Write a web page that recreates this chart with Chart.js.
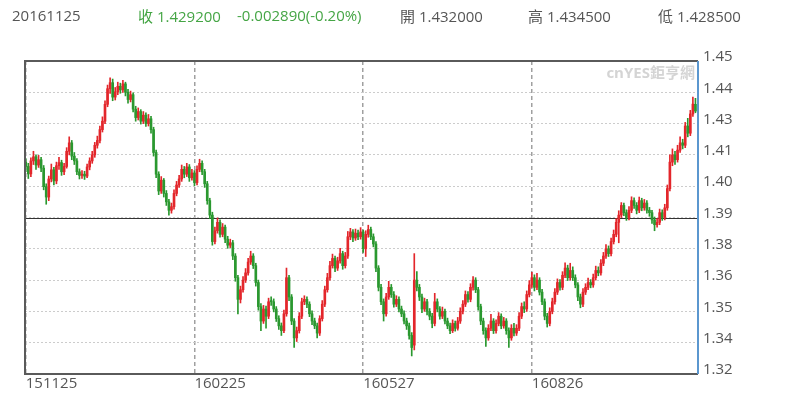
<!DOCTYPE html>
<html>
<head>
<meta charset="utf-8">
<script src="https://cdn.jsdelivr.net/npm/chart.js@4.4.1/dist/chart.umd.min.js"></script>
<style>
body{margin:0;background:#fff;}
#wrap{position:relative;width:800px;height:406px;}
.hd{position:absolute;top:5px;font:15px "Open Sans","Noto Sans CJK TC",sans-serif;color:#555;white-space:nowrap;}
.gr{color:#45a545;}
#mark{position:absolute;right:105px;top:61px;font:bold 15px "Open Sans","Noto Sans CJK TC",sans-serif;color:#d4d4d4;}
</style>
</head>
<body>
<div id="wrap">
  <canvas id="fx_graph"></canvas>
  <div class="hd" style="left:12px">20161125</div>
  <div class="hd gr" style="left:138px">收 1.429200</div>
  <div class="hd gr" style="left:237px">-0.002890(-0.20%)</div>
  <div class="hd" style="left:400px">開 1.432000</div>
  <div class="hd" style="left:528px">高 1.434500</div>
  <div class="hd" style="left:658px">低 1.428500</div>
  <div id="mark">cnYES鉅亨網</div>
</div>
<script>
// daily bars, 151125 .. 161125
var open = [
    1.4080,1.4062,1.4031,1.4085,1.4102,1.4068,1.4090,1.4055,1.3978,1.3935,
    1.4010,1.4048,1.4002,1.4065,1.4078,1.4040,1.4062,1.4125,1.4160,1.4105,
    1.4085,1.4040,1.4025,1.4030,1.4022,1.4060,1.4085,1.4110,1.4150,1.4170,
    1.4215,1.4250,1.4320,1.4385,1.4410,1.4350,1.4372,1.4395,1.4380,1.4405,
    1.4370,1.4340,1.4360,1.4300,1.4265,1.4290,1.4250,1.4275,1.4240,1.4260,
    1.4215,1.4120,1.4030,1.3960,1.4005,1.3950,1.3915,1.3880,1.3895,1.3950,
    1.3985,1.4010,1.4050,1.4030,1.4060,1.4015,1.4035,1.3995,1.4050,1.4075,
    1.4040,1.3990,1.3920,1.3860,1.3750,1.3795,1.3830,1.3780,1.3810,1.3760,
    1.3735,1.3745,1.3690,1.3600,1.3510,1.3550,1.3590,1.3620,1.3665,1.3690,
    1.3650,1.3580,1.3480,1.3420,1.3470,1.3440,1.3505,1.3500,1.3470,1.3430,
    1.3400,1.3380,1.3450,1.3600,1.3520,1.3420,1.3350,1.3380,1.3440,1.3500,
    1.3510,1.3490,1.3450,1.3420,1.3400,1.3370,1.3430,1.3490,1.3550,1.3600,
    1.3650,1.3680,1.3640,1.3670,1.3700,1.3650,1.3690,1.3770,1.3790,1.3765,
    1.3785,1.3770,1.3790,1.3720,1.3780,1.3800,1.3770,1.3740,1.3640,1.3560,
    1.3500,1.3450,1.3520,1.3560,1.3530,1.3490,1.3510,1.3470,1.3450,1.3420,
    1.3400,1.3360,1.3320,1.3590,1.3560,1.3520,1.3470,1.3500,1.3460,1.3440,
    1.3410,1.3500,1.3470,1.3440,1.3460,1.3420,1.3400,1.3380,1.3410,1.3390,
    1.3420,1.3460,1.3490,1.3530,1.3510,1.3560,1.3590,1.3550,1.3480,1.3420,
    1.3380,1.3350,1.3390,1.3420,1.3380,1.3410,1.3440,1.3400,1.3420,1.3380,
    1.3350,1.3390,1.3370,1.3390,1.3440,1.3480,1.3470,1.3530,1.3570,1.3600,
    1.3560,1.3590,1.3540,1.3500,1.3440,1.3410,1.3460,1.3500,1.3540,1.3580,
    1.3560,1.3610,1.3640,1.3600,1.3630,1.3600,1.3570,1.3520,1.3490,1.3540,
    1.3560,1.3580,1.3570,1.3600,1.3630,1.3620,1.3660,1.3690,1.3720,1.3700,
    1.3750,1.3780,1.3830,1.3860,1.3900,1.3870,1.3850,1.3880,1.3920,1.3900,
    1.3880,1.3920,1.3890,1.3910,1.3880,1.3870,1.3840,1.3820,1.3830,1.3870,
    1.3850,1.3890,1.3970,1.4080,1.4110,1.4090,1.4130,1.4160,1.4150,1.4230,
    1.4200,1.4280,1.4320
];
var high = [
    1.4095,1.4075,1.4098,1.4125,1.4110,1.4108,1.4100,1.4066,1.3990,1.4022,
    1.4072,1.4058,1.4080,1.4100,1.4088,1.4075,1.4140,1.4185,1.4170,1.4120,
    1.4095,1.4052,1.4045,1.4042,1.4072,1.4098,1.4125,1.4162,1.4188,1.4230,
    1.4268,1.4335,1.4400,1.4430,1.4425,1.4390,1.4412,1.4408,1.4420,1.4412,
    1.4382,1.4375,1.4368,1.4312,1.4305,1.4298,1.4290,1.4285,1.4278,1.4270,
    1.4225,1.4130,1.4040,1.4020,1.4012,1.3962,1.3925,1.3910,1.3965,1.4000,
    1.4025,1.4068,1.4062,1.4075,1.4070,1.4050,1.4045,1.4065,1.4092,1.4085,
    1.4050,1.4000,1.3930,1.3872,1.3810,1.3848,1.3840,1.3825,1.3818,1.3772,
    1.3760,1.3755,1.3700,1.3610,1.3565,1.3605,1.3638,1.3680,1.3710,1.3700,
    1.3660,1.3590,1.3492,1.3485,1.3482,1.3515,1.3520,1.3512,1.3480,1.3442,
    1.3412,1.3465,1.3640,1.3610,1.3530,1.3430,1.3395,1.3455,1.3515,1.3525,
    1.3520,1.3500,1.3462,1.3432,1.3412,1.3442,1.3505,1.3565,1.3618,1.3668,
    1.3698,1.3690,1.3685,1.3722,1.3710,1.3705,1.3792,1.3805,1.3800,1.3802,
    1.3798,1.3808,1.3798,1.3795,1.3818,1.3810,1.3782,1.3750,1.3650,1.3572,
    1.3512,1.3535,1.3585,1.3572,1.3542,1.3525,1.3520,1.3482,1.3462,1.3432,
    1.3412,1.3372,1.3700,1.3625,1.3572,1.3532,1.3515,1.3510,1.3472,1.3452,
    1.3535,1.3512,1.3480,1.3478,1.3470,1.3432,1.3412,1.3425,1.3420,1.3435,
    1.3475,1.3505,1.3545,1.3542,1.3575,1.3605,1.3600,1.3560,1.3490,1.3432,
    1.3392,1.3405,1.3448,1.3430,1.3425,1.3455,1.3450,1.3435,1.3430,1.3392,
    1.3405,1.3410,1.3405,1.3455,1.3495,1.3500,1.3545,1.3588,1.3622,1.3612,
    1.3618,1.3600,1.3552,1.3512,1.3452,1.3475,1.3515,1.3555,1.3595,1.3592,
    1.3625,1.3662,1.3652,1.3660,1.3645,1.3612,1.3580,1.3532,1.3555,1.3575,
    1.3598,1.3592,1.3615,1.3648,1.3645,1.3675,1.3705,1.3738,1.3732,1.3765,
    1.3798,1.3845,1.3878,1.3912,1.3910,1.3882,1.3895,1.3936,1.3932,1.3912,
    1.3935,1.3930,1.3925,1.3920,1.3892,1.3880,1.3852,1.3845,1.3885,1.3882,
    1.3905,1.3985,1.4110,1.4135,1.4125,1.4150,1.4185,1.4175,1.4245,1.4262,
    1.4295,1.4350,1.4345
];
var low = [
    1.4040,1.4012,1.4020,1.4070,1.4050,1.4058,1.4040,1.3965,1.3905,1.3920,
    1.3998,1.3985,1.3990,1.4050,1.4025,1.4028,1.4055,1.4110,1.4090,1.4070,
    1.4028,1.4010,1.4012,1.4008,1.4015,1.4048,1.4075,1.4100,1.4138,1.4160,
    1.4205,1.4240,1.4310,1.4365,1.4335,1.4338,1.4360,1.4366,1.4370,1.4355,
    1.4325,1.4330,1.4288,1.4250,1.4255,1.4238,1.4240,1.4228,1.4230,1.4200,
    1.4105,1.4015,1.3945,1.3950,1.3935,1.3900,1.3860,1.3868,1.3885,1.3940,
    1.3975,1.4000,1.4015,1.4020,1.4000,1.4005,1.3982,1.3985,1.4040,1.4028,
    1.3975,1.3905,1.3845,1.3735,1.3740,1.3785,1.3768,1.3770,1.3745,1.3722,
    1.3725,1.3675,1.3585,1.3450,1.3495,1.3540,1.3580,1.3610,1.3655,1.3638,
    1.3565,1.3465,1.3380,1.3410,1.3390,1.3430,1.3485,1.3458,1.3418,1.3385,
    1.3360,1.3372,1.3440,1.3505,1.3405,1.3310,1.3335,1.3370,1.3430,1.3488,
    1.3475,1.3438,1.3405,1.3388,1.3350,1.3360,1.3420,1.3480,1.3540,1.3590,
    1.3640,1.3625,1.3630,1.3660,1.3635,1.3640,1.3680,1.3758,1.3750,1.3755,
    1.3758,1.3760,1.3705,1.3688,1.3768,1.3758,1.3728,1.3625,1.3545,1.3488,
    1.3420,1.3440,1.3510,1.3518,1.3478,1.3480,1.3458,1.3438,1.3408,1.3385,
    1.3345,1.3275,1.3300,1.3545,1.3505,1.3455,1.3460,1.3445,1.3425,1.3392,
    1.3400,1.3458,1.3428,1.3430,1.3408,1.3388,1.3368,1.3372,1.3378,1.3382,
    1.3410,1.3450,1.3480,1.3498,1.3500,1.3548,1.3538,1.3465,1.3405,1.3365,
    1.3315,1.3340,1.3380,1.3368,1.3370,1.3400,1.3388,1.3390,1.3365,1.3310,
    1.3340,1.3358,1.3360,1.3380,1.3430,1.3455,1.3460,1.3520,1.3560,1.3545,
    1.3550,1.3528,1.3488,1.3425,1.3395,1.3400,1.3450,1.3490,1.3530,1.3548,
    1.3550,1.3600,1.3588,1.3590,1.3588,1.3558,1.3505,1.3475,1.3480,1.3530,
    1.3550,1.3558,1.3560,1.3590,1.3608,1.3610,1.3650,1.3680,1.3688,1.3690,
    1.3740,1.3770,1.3745,1.3850,1.3858,1.3838,1.3840,1.3870,1.3888,1.3865,
    1.3870,1.3878,1.3880,1.3868,1.3855,1.3825,1.3795,1.3810,1.3820,1.3838,
    1.3840,1.3880,1.3960,1.4065,1.4070,1.4080,1.4120,1.4135,1.4140,1.4185,
    1.4190,1.4270,1.4285
];
var close = [
    1.4062,1.4031,1.4085,1.4102,1.4068,1.4090,1.4055,1.3978,1.3935,1.4010,
    1.4048,1.4002,1.4065,1.4078,1.4040,1.4062,1.4125,1.4160,1.4105,1.4085,
    1.4040,1.4025,1.4030,1.4022,1.4060,1.4085,1.4110,1.4150,1.4170,1.4215,
    1.4250,1.4320,1.4385,1.4410,1.4350,1.4372,1.4395,1.4380,1.4405,1.4370,
    1.4340,1.4360,1.4300,1.4265,1.4290,1.4250,1.4275,1.4240,1.4260,1.4215,
    1.4120,1.4030,1.3960,1.4005,1.3950,1.3915,1.3880,1.3895,1.3950,1.3985,
    1.4010,1.4050,1.4030,1.4060,1.4015,1.4035,1.3995,1.4050,1.4075,1.4040,
    1.3990,1.3920,1.3860,1.3750,1.3795,1.3830,1.3780,1.3810,1.3760,1.3735,
    1.3745,1.3690,1.3600,1.3510,1.3550,1.3590,1.3620,1.3665,1.3690,1.3650,
    1.3580,1.3480,1.3420,1.3470,1.3440,1.3500,1.3500,1.3470,1.3430,1.3400,
    1.3380,1.3450,1.3600,1.3520,1.3420,1.3350,1.3380,1.3440,1.3500,1.3510,
    1.3490,1.3450,1.3420,1.3400,1.3370,1.3430,1.3490,1.3550,1.3600,1.3650,
    1.3680,1.3640,1.3670,1.3700,1.3650,1.3690,1.3770,1.3790,1.3765,1.3785,
    1.3770,1.3790,1.3720,1.3780,1.3800,1.3770,1.3740,1.3640,1.3560,1.3500,
    1.3450,1.3520,1.3560,1.3530,1.3490,1.3510,1.3470,1.3450,1.3420,1.3400,
    1.3360,1.3310,1.3590,1.3560,1.3520,1.3470,1.3500,1.3460,1.3440,1.3410,
    1.3500,1.3470,1.3440,1.3460,1.3420,1.3400,1.3380,1.3410,1.3390,1.3420,
    1.3460,1.3490,1.3530,1.3510,1.3560,1.3590,1.3550,1.3480,1.3420,1.3380,
    1.3350,1.3390,1.3420,1.3380,1.3410,1.3440,1.3400,1.3420,1.3380,1.3350,
    1.3390,1.3370,1.3390,1.3440,1.3480,1.3470,1.3530,1.3570,1.3600,1.3560,
    1.3590,1.3540,1.3500,1.3440,1.3410,1.3460,1.3500,1.3540,1.3580,1.3560,
    1.3610,1.3640,1.3600,1.3630,1.3600,1.3570,1.3520,1.3490,1.3540,1.3560,
    1.3580,1.3570,1.3600,1.3630,1.3620,1.3660,1.3690,1.3720,1.3700,1.3750,
    1.3780,1.3830,1.3860,1.3900,1.3870,1.3850,1.3880,1.3920,1.3900,1.3880,
    1.3920,1.3890,1.3910,1.3880,1.3870,1.3840,1.3820,1.3830,1.3870,1.3850,
    1.3890,1.3970,1.4080,1.4110,1.4090,1.4130,1.4160,1.4150,1.4230,1.4200,
    1.4280,1.4321,1.4292
];

// axis ticks
var xTickIdx  = [0, 66, 132, 198];
var xTickText = ["151125", "160225", "160527", "160826"];
var yTickVals = [1.32, 1.333, 1.346, 1.359, 1.372, 1.385, 1.398, 1.411, 1.424, 1.437, 1.45];
var yTickText = ["1.32", "1.34", "1.35", "1.36", "1.38", "1.39", "1.40", "1.41", "1.43", "1.44", "1.45"];
var refLevel = 1.385;

var UP = "#e3262b", DOWN = "#2a982f";
var barColors = close.map(function (c, i) { return c >= open[i] ? UP : DOWN; });
var wicks = close.map(function (c, i) { return { x: i, y: [low[i], high[i]] }; });
var bodies = close.map(function (c, i) { return { x: i, y: [open[i], c] }; });

var tickFont = { family: '"Open Sans", "Noto Sans", sans-serif', size: 15 };

var framePlugin = {
    id: 'frame',
    beforeDatasetsDraw: function (chart) {
        var a = chart.chartArea, ctx = chart.ctx;
        var py = Math.round(chart.scales.y.getPixelForValue(refLevel)) + 0.5;
        ctx.save();
        ctx.strokeStyle = "#333";
        ctx.lineWidth = 1;
        ctx.beginPath();
        ctx.moveTo(a.left, py);
        ctx.lineTo(a.right, py);
        ctx.stroke();
        ctx.restore();
    },
    afterDatasetsDraw: function (chart) {
        var a = chart.chartArea, ctx = chart.ctx;
        ctx.save();
        ctx.lineWidth = 2;
        ctx.strokeStyle = "#5a5a5a";
        ctx.beginPath();
        ctx.moveTo(a.right, a.top);
        ctx.lineTo(a.left, a.top);
        ctx.lineTo(a.left, a.bottom);
        ctx.lineTo(a.right, a.bottom);
        ctx.stroke();
        ctx.strokeStyle = "#5b97cf";
        ctx.beginPath();
        ctx.moveTo(a.right, a.top);
        ctx.lineTo(a.right, a.bottom);
        ctx.stroke();
        ctx.restore();
    }
};

var config = {
    type: 'bar',
    data: {
        datasets: [{
            data: wicks,
            backgroundColor: barColors,
            barThickness: 1,
            grouped: false,
            order: 2
        }, {
            data: bodies,
            backgroundColor: barColors,
            barThickness: 2,
            grouped: false,
            order: 1
        }]
    },
    options: {
        animation: false,
        responsive: true,
        maintainAspectRatio: false,
        layout: { padding: { left: 25, top: 61, right: 0, bottom: 0 } },
        plugins: {
            legend: { display: false },
            tooltip: { enabled: false }
        },
        scales: {
            x: {
                type: 'linear',
                min: -0.3,
                max: 263,
                offset: false,
                afterBuildTicks: function (s) {
                    s.ticks = xTickIdx.map(function (v) { return { value: v }; });
                },
                afterFit: function (s) { s.height = 32; },
                ticks: {
                    autoSkip: false,
                    maxRotation: 0,
                    align: 'start',
                    padding: 1,
                    color: "#555",
                    font: tickFont,
                    callback: function (v, i) { return xTickText[i]; }
                },
                grid: { offset: false, color: "#a0a0a0", lineWidth: 1.5, drawTicks: false },
                border: { display: false, dash: [4, 3] }
            },
            y: {
                position: 'right',
                min: 1.32,
                max: 1.45,
                afterBuildTicks: function (s) {
                    s.ticks = yTickVals.map(function (v) { return { value: v }; });
                },
                afterFit: function (s) { s.width = 102; },
                ticks: {
                    autoSkip: false,
                    padding: 5,
                    labelOffset: -4,
                    color: "#555",
                    font: tickFont,
                    callback: function (v, i) { return yTickText[i]; }
                },
                grid: { color: "#cccccc", lineWidth: 1, drawTicks: false },
                border: { display: false, dash: [2, 2] }
            }
        }
    },
    plugins: [framePlugin]
};

var ctx = document.getElementById("fx_graph").getContext("2d");
new Chart(ctx, config);
</script>
</body>
</html>
